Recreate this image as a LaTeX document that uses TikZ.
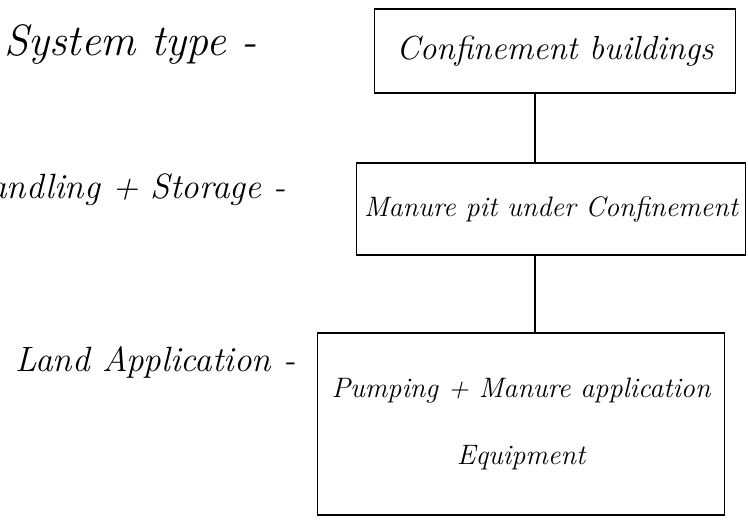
\documentclass[tikz,border=0pt]{standalone}
\begin{document}
\begin{tikzpicture}[x=0.02cm, y=-0.02cm,
    stagebox/.style={draw, line width=1pt, align=center, inner sep=2pt,
                     font=\fontsize{16}{38}\selectfont\itshape},
    tierlabel/.style={anchor=east, font=\fontsize{20}{24}\selectfont\itshape}]
  \useasboundingbox (0,0) rectangle (748,529);

  % Stages
  \node [stagebox, minimum width=7.22cm, minimum height=1.68cm,
         font=\fontsize{19}{24}\selectfont\itshape]
        (conf) at (555,51) {Confinement buildings};
  \node [stagebox, minimum width=7.78cm, minimum height=1.84cm]
        (pit) at (551,209) {Manure pit under Confinement};
  \node [stagebox, minimum width=8.14cm, minimum height=3.64cm]
        (equip) at (521,424) {Pumping + Manure application\\Equipment};

  % Tiers
  \node [tierlabel, font=\fontsize{25}{30}\selectfont\itshape]
        (systype) at (263,45) {System type -};
  \node [tierlabel] (handling) at (292,190) {Handling + Storage -};
  \node [tierlabel] (landapp) at (302,362) {Land Application -};

  % Connections
  \path (535,0) coordinate (spine);
  \draw [line width=1pt] (conf.south -| spine) -- (pit.north -| spine);
  \draw [line width=1pt] (pit.south -| spine) -- (equip.north -| spine);
\end{tikzpicture}
\end{document}
